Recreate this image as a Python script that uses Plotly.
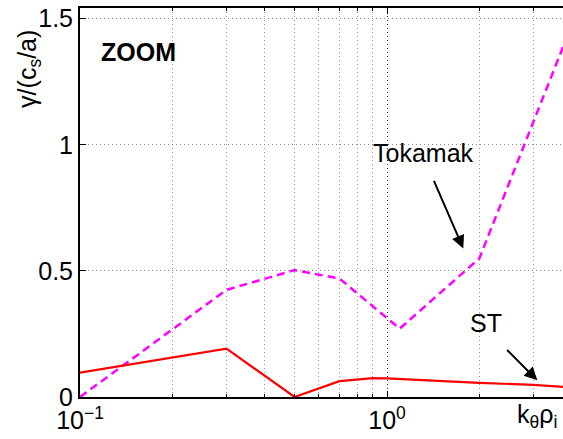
import math
import plotly.graph_objects as go

# Data
tok_k = [0.1, 0.3, 0.5, 0.7, 1.1, 2.0, 3.75]
tok_gamma = [0.0, 0.425, 0.503, 0.47, 0.271, 0.55, 1.39]

st_k = [0.1, 0.3, 0.5, 0.7, 0.9, 1.0, 2.0, 3.0, 3.75]
st_gamma = [0.097, 0.192, 0.0, 0.063, 0.075, 0.074, 0.056, 0.048, 0.04]

x_tickvals = [0.1, 1.0]
x_ticktext = ["10<sup>\u22121</sup>", "10<sup>0</sup>"]
x_minor = [0.2, 0.3, 0.4, 0.5, 0.6, 0.7, 0.8, 0.9, 2, 3]
y_tickvals = [0, 0.5, 1, 1.5]
y_ticktext = ["0", "0.5", "1", "1.5"]

FONT = "Liberation Sans, Arial, Helvetica, sans-serif"

fig = go.Figure()
fig.add_trace(go.Scatter(x=tok_k, y=tok_gamma, mode="lines",
                         line=dict(color="#FF00FF", width=2.5, dash="8px,5px"),
                         showlegend=False, hoverinfo="skip"))
fig.add_trace(go.Scatter(x=st_k, y=st_gamma, mode="lines",
                         line=dict(color="#FF0000", width=2.2),
                         showlegend=False, hoverinfo="skip"))

L = math.log10
annotations = [
    dict(x=L(0.1556), y=1.37, xref="x", yref="y", text="<b>ZOOM</b>", showarrow=False,
         font=dict(size=25, color="black", family=FONT)),
    dict(x=L(1.312), y=0.967, xref="x", yref="y", text="Tokamak", showarrow=False,
         font=dict(size=25, color="black", family=FONT)),
    dict(x=L(2.094), y=0.292, xref="x", yref="y", text="ST", showarrow=False,
         font=dict(size=25, color="black", family=FONT)),
    dict(x=L(1.772), y=0.589, ax=L(1.415), ay=0.863, xref="x", yref="y",
         axref="x", ayref="y", text="", showarrow=True, arrowhead=2,
         arrowsize=1.3, arrowwidth=2, arrowcolor="black"),
    dict(x=L(3.088), y=0.066, ax=L(2.436), ay=0.192, xref="x", yref="y",
         axref="x", ayref="y", text="", showarrow=True, arrowhead=2,
         arrowsize=1.3, arrowwidth=2, arrowcolor="black"),
    dict(x=0.946, y=-0.05, xref="paper", yref="paper", text="k<sub>\u03b8</sub>\u03c1<sub>i</sub>",
         showarrow=False, font=dict(size=25, color="black", family=FONT),
         xanchor="center", yanchor="middle"),
    dict(x=-0.106, y=0.843, xref="paper", yref="paper", text="\u03b3/(c<sub>s</sub>/a)",
         showarrow=False, textangle=-90, font=dict(size=25, color="black", family=FONT),
         xanchor="center", yanchor="middle"),
]

fig.update_layout(
    width=563, height=439,
    margin=dict(l=80, r=0, t=8, b=42, autoexpand=False),
    paper_bgcolor="white", plot_bgcolor="white",
    font=dict(family=FONT, size=25, color="black"),
    annotations=annotations,
    xaxis=dict(
        type="log", range=[-1, 0.5733], automargin=False,
        tickvals=x_tickvals, ticktext=x_ticktext,
        showline=True, linecolor="black", linewidth=2, mirror="ticks",
        ticks="inside", ticklen=6, tickcolor="black", tickwidth=1,
        showgrid=True, gridcolor="#333333", griddash="1px,3px", gridwidth=1,
        zeroline=False,
        minor=dict(tickvals=x_minor, showgrid=True, gridcolor="#999999",
                   griddash="1px,3px", gridwidth=1, ticks="inside", ticklen=3,
                   tickcolor="black"),
        tickfont=dict(size=25, family=FONT),
    ),
    yaxis=dict(
        range=[0, 1.5425], automargin=False,
        tickvals=y_tickvals, ticktext=y_ticktext,
        showline=True, linecolor="black", linewidth=2,
        ticks="inside", ticklen=6, tickcolor="black", tickwidth=1,
        showgrid=True, gridcolor="#888888", griddash="1px,3px", gridwidth=1,
        zeroline=False,
        tickfont=dict(size=25, family=FONT),
    ),
)

fig.write_html("out.html", config={"displayModeBar": False},
               post_script="document.body.style.margin='0';document.body.style.overflow='hidden';")
